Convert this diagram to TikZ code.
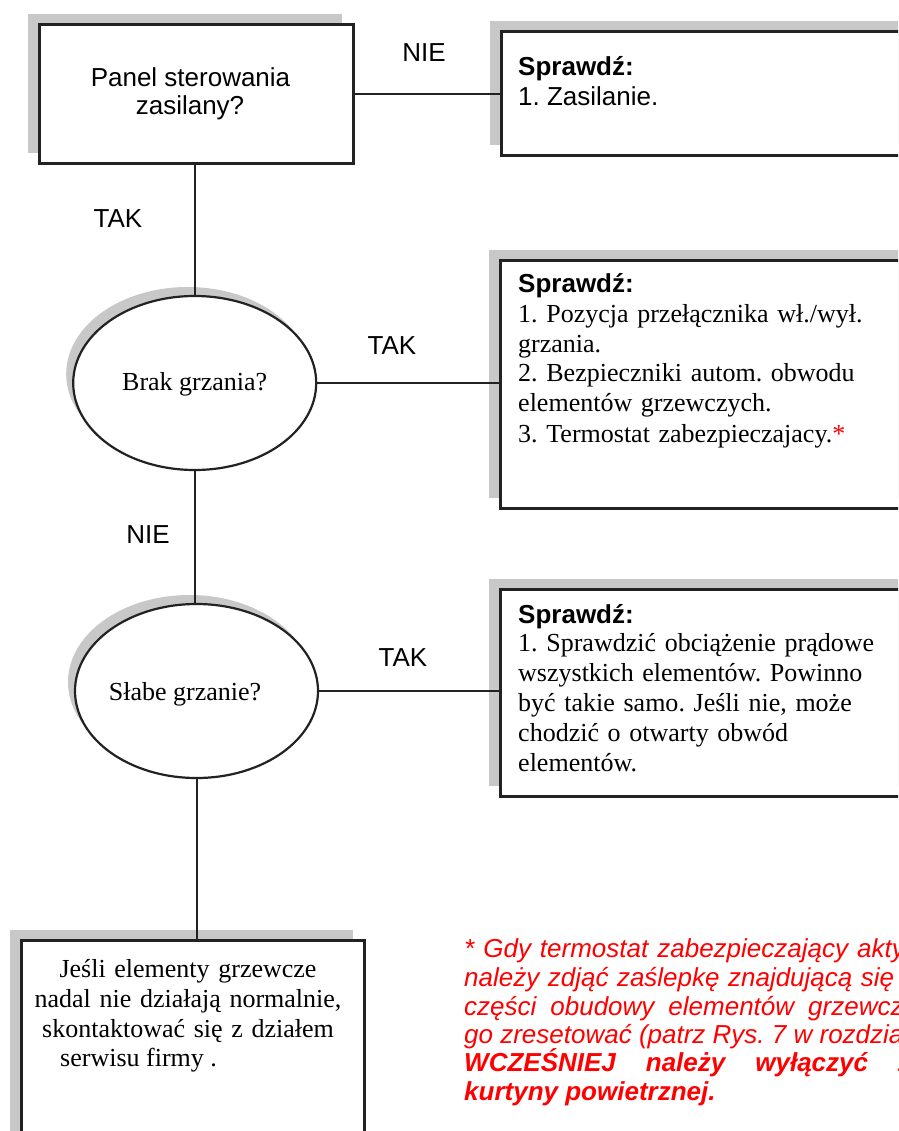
\documentclass[tikz,border=0pt]{standalone}
\usepackage{fontspec}
\setmainfont{Liberation Serif}
\setsansfont{Liberation Sans}
\usetikzlibrary{shapes.geometric,shadows}
\definecolor{edge}{HTML}{222222}
\definecolor{shade}{HTML}{C8C8C8}
\definecolor{warnred}{HTML}{FF0000}
\frenchspacing
\begin{document}
\begin{tikzpicture}[x=1pt,y=-1pt,
  box/.style={draw=edge, line width=2.6pt, fill=white, rectangle, inner sep=0pt, anchor=north west,
    drop shadow={shadow xshift=-11pt, shadow yshift=10pt, fill=shade, draw=none, opacity=1}},
  oval/.style={draw=edge, line width=2.2pt, fill=white, ellipse, inner sep=0pt,
    minimum width=243pt, minimum height=174pt,
    drop shadow={shadow xshift=-7pt, shadow yshift=9pt, fill=shade, draw=none, opacity=1}},
  link/.style={draw=edge, line width=2pt},
  lab/.style={font=\sffamily\fontsize{26}{30}\selectfont, anchor=base, inner sep=0pt},
  head/.style={font=\sffamily\bfseries\fontsize{26}{30}\selectfont, anchor=base west, inner sep=0pt},
  body/.style={font=\rmfamily\fontsize{26}{30}\selectfont, inner sep=0pt, anchor=base west, align=left},
  note/.style={font=\sffamily\itshape\fontsize{26}{28.5}\selectfont, text=warnred, inner sep=0pt, anchor=base west},
  notebold/.style={note, font=\sffamily\bfseries\itshape\fontsize{26}{28.5}\selectfont}
]
\useasboundingbox (0,0) rectangle (898,1131);
\fill[white] (0,0) rectangle (898,1131);
\clip (0,0) rectangle (898,1131);

% boxes
\node[box, minimum width=314pt, minimum height=139pt] (b1) at (38,23) {};
\node[box, minimum width=420pt, minimum height=124pt] (b2) at (500,30) {};
\node[box, minimum width=420pt, minimum height=248pt] (b3) at (499,259) {};
\node[box, minimum width=420pt, minimum height=207pt] (b4) at (499,588) {};
\node[box, minimum width=343pt, minimum height=260pt] (b5) at (20,939) {};

% ellipses
\node[oval] (e1) at (194.7,383) {};
\node[oval] (e2) at (196.5,691) {};

% texts
\node[lab] (t1a) at (190.5,87) {Panel sterowania};
\node[lab] (t1b) at (190,115) {zasilany?};

\node[head] (s2) at (518,76) {Sprawdź:};
\node[lab, anchor=base west] (t2) at (518,106) {1. Zasilanie.};

\node[body, text width=370pt] (t3) at (518,293) {{\sffamily\bfseries Sprawdź:}\\[-1pt]1. Pozycja przełącznika wł./wył.\\grzania.\\2. Bezpieczniki autom. obwodu\\elementów grzewczych.\\3. Termostat zabezpieczajacy.\textcolor{warnred}{*}};

\node[body, text width=370pt] (t4) at (518,623) {{\sffamily\bfseries Sprawdź:}\\[-1.5pt]1. Sprawdzić obciążenie prądowe\\wszystkich elementów. Powinno\\być takie samo. Jeśli nie, może\\chodzić o otwarty obwód\\elementów.};

\node[body, text width=340pt, align=center, anchor=base] (t5) at (188,977) {Jeśli elementy grzewcze\\nadal nie działają normalnie,\\skontaktować się z działem};
\node[body] (t5b) at (60,1066) {serwisu firmy .};

\node[font=\rmfamily\fontsize{26}{30}\selectfont, anchor=base, inner sep=0pt] (te1) at (194.7,390) {Brak grzania?};
\node[font=\rmfamily\fontsize{26}{30}\selectfont, anchor=base, inner sep=0pt] (te2) at (185,700) {Słabe grzanie?};

% branch labels
\node[lab] (l1) at (424,62) {NIE};
\node[lab] (l2) at (118,228) {TAK};
\node[lab] (l3) at (392,354) {TAK};
\node[lab] (l4) at (148,543) {NIE};
\node[lab] (l5) at (403,666) {TAK};

% footnote
\node[note] (n1) at (464,957.5) {\spaceskip=9pt\relax * Gdy termostat zabezpieczający aktywuje};
\node[note] (n2) at (464,986.5) {\spaceskip=8.5pt\relax należy zdjąć zaślepkę znajdującą się};
\node[note] (n3) at (464,1015) {\spaceskip=14pt\relax części obudowy elementów grzewczych};
\node[note] (n4) at (464,1043) {go zresetować (patrz Rys. 7 w rozdziale};
\node[notebold] (n5) at (464,1071.5) {\spaceskip=30pt\relax WCZEŚNIEJ należy wyłączyć zasilanie};
\node[notebold] (n6) at (464,1100) {kurtyny powietrznej.};

% connectors
\draw[link] (b1.east) -- (b1.east -| b2.west);
\draw[link] (e1.north |- b1.south) -- (e1.north);
\draw[link] (e1.east) -- (e1.east -| b3.west);
\draw[link] (e1.south) -- (e1.south |- e2.north);
\draw[link] (e2.east) -- (e2.east -| b4.west);
\draw[link] (e2.south) -- (e2.south |- b5.north);
\end{tikzpicture}
\end{document}
